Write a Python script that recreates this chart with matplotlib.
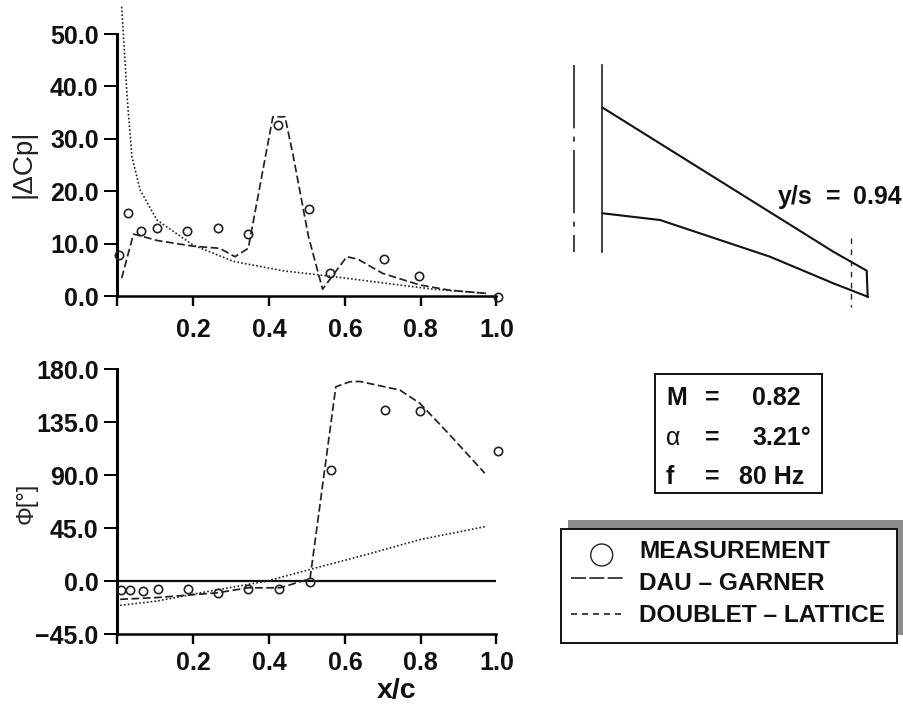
import matplotlib
matplotlib.use('Agg')
import matplotlib.pyplot as plt
from matplotlib.patches import Rectangle, Circle

plt.rcParams['font.family'] = ['Liberation Sans', 'DejaVu Sans']

W, H = 904, 704

# |dCp| plot
meas_x = [0.005, 0.029, 0.063, 0.105, 0.184, 0.265, 0.344, 0.424, 0.505, 0.560, 0.704, 0.796, 1.003]
meas_cp = [7.8, 15.8, 12.5, 12.9, 12.5, 12.9, 11.8, 32.6, 16.6, 4.3, 7.1, 3.8, -0.1]
dau_x = [0.011, 0.042, 0.055, 0.104, 0.200, 0.270, 0.310, 0.345, 0.410, 0.442, 0.464, 0.504, 0.541,
         0.605, 0.635, 0.700, 0.798, 0.877, 0.974]
dau_cp = [3.4, 11.8, 11.6, 10.6, 9.5, 9.1, 7.5, 9.1, 34.2, 34.2, 26.6, 11.3, 1.3,
          7.5, 7.0, 4.3, 2.1, 1.1, 0.5]
dlm_x = [0.011, 0.018, 0.026, 0.038, 0.060, 0.104, 0.200, 0.306, 0.438, 0.570, 0.700, 0.833, 0.974]
dlm_cp = [55.2, 46.9, 37.4, 26.6, 20.2, 14.5, 9.7, 6.6, 4.8, 3.7, 2.5, 1.3, 0.5]

# phase plot
meas_x2 = [0.009, 0.032, 0.067, 0.107, 0.186, 0.266, 0.345, 0.426, 0.508, 0.563, 0.706, 0.798, 1.004]
meas_phi = [-7.9, -7.9, -8.5, -6.5, -6.5, -10.5, -7.0, -7.0, -0.8, 94.7, 145.5, 144.7, 111.0]
dau_x2 = [0.007, 0.104, 0.183, 0.262, 0.345, 0.429, 0.508, 0.576, 0.613, 0.640, 0.745, 0.798, 0.877, 0.969]
dau_phi = [-15.5, -14.0, -12.0, -10.0, -5.7, -5.7, 2.0, 165.3, 169.6, 169.8, 162.5, 151.2, 124.3, 91.8]
dlm_x2 = [0.007, 0.104, 0.218, 0.394, 0.508, 0.657, 0.798, 0.974]
dlm_phi = [-20.6, -17.0, -10.0, 0.0, 9.9, 22.6, 35.3, 46.6]

x_ticks = [0.2, 0.4, 0.6, 0.8, 1.0]
cp_ticks = [0.0, 10.0, 20.0, 30.0, 40.0, 50.0]
phi_ticks = [-45.0, 0.0, 45.0, 90.0, 135.0, 180.0]

# wing planform sketch, in figure pixels
le_x = [602.7, 833.3, 866.7, 867.7]
le_y = [107.7, 251.7, 270.7, 296.7]
te_x = [602.7, 660.0, 770.0, 833.3, 867.7]
te_y = [213.3, 220.0, 256.7, 283.3, 296.7]


def pixel_axes(left, right, top, bottom):
    return plt.gcf().add_axes([left / W, 1 - bottom / H, (right - left) / W, (bottom - top) / H])


def style(ax, ylim, yticks, xpad):
    ax.set_xlim(0, 1)
    ax.set_ylim(*ylim)
    ax.patch.set_alpha(0)
    for s in ['top', 'right']:
        ax.spines[s].set_visible(False)
    ax.spines['left'].set_linewidth(2.2)
    ax.spines['bottom'].set_linewidth(1.8)
    ax.set_xticks(x_ticks)
    ax.set_xticks([0], minor=True)
    ax.set_xticklabels(['%.1f' % t for t in x_ticks], fontsize=18, fontweight='bold', color='#111111')
    ax.set_yticks(yticks)
    ax.set_yticklabels([('%.1f' % t).replace('-', '\u2212') for t in yticks], fontsize=18,
                       fontweight='bold', color='#111111')
    ax.tick_params(axis='x', which='both', length=7.5, width=1.7, pad=xpad)
    ax.tick_params(axis='y', length=9.5, width=1.4, pad=4)


def curves(ax, x1, y1, x2, y2, x3, y3):
    ax.plot(x1, y1, ls='none', marker='o', ms=6, mfc='none', mec='#222222', mew=1.2, clip_on=False, zorder=5)
    ax.plot(x2, y2, color='#222222', lw=1.25, dashes=(4.5, 2), clip_on=False)
    ax.plot(x3, y3, color='#222222', lw=1.2, dashes=(1, 1.3), clip_on=False)


fig = plt.figure(figsize=(W / 100, H / 100), dpi=100)

ax1 = pixel_axes(117.5, 496.5, 34, 296)
style(ax1, (0, 50), cp_ticks, 8)
curves(ax1, meas_x, meas_cp, dau_x, dau_cp, dlm_x, dlm_cp)

ax2 = pixel_axes(117.5, 496.5, 369.5, 634)
style(ax2, (-45, 180), phi_ticks, 5)
ax2.axhline(0, color='#111111', lw=1.6)
curves(ax2, meas_x2, meas_phi, dau_x2, dau_phi, dlm_x2, dlm_phi)

# everything outside the two plots is placed in figure pixels
ov = fig.add_axes([0, 0, 1, 1], zorder=-1)
ov.set_xlim(0, W)
ov.set_ylim(H, 0)
ov.axis('off')

ov.text(24, 164, '|\u0394Cp|', rotation=90, ha='center', va='center', fontsize=20, color='#222222')
ov.text(27, 503, '\u03a6[\u00b0]', rotation=90, ha='center', va='center', fontsize=17, color='#222222')
ov.text(397, 691, 'x/c', ha='center', va='center', fontsize=20.5, fontweight='bold', color='#111111')

ov.plot(le_x, le_y, color='#111111', lw=1.5)
ov.plot(te_x, te_y, color='#111111', lw=1.5)
ov.plot([602.3, 602.3], [65, 252], color='#222222', lw=1.2)
ov.plot([574.3, 574.3], [65, 252], color='#222222', lw=1.2, dashes=(38, 5, 3, 5))
ov.plot([851, 851], [238, 307], color='#222222', lw=1.0, dashes=(4, 4))
ov.text(778, 197, 'y/s', ha='left', va='center', fontsize=18, fontweight='bold', color='#111111')
ov.text(833, 197, '=', ha='center', va='center', fontsize=18, fontweight='bold', color='#111111')
ov.text(853, 197, '0.94', ha='left', va='center', fontsize=18, fontweight='bold', color='#111111')

# parameter box
ov.add_patch(Rectangle((655, 374), 167, 119, fc='white', ec='#111111', lw=1.4))
for y, a, b, xb in [(398, 'M', '0.82', 752), (438, '\u03b1', '3.21\u00b0', 752), (477, 'f', '80 Hz', 739)]:
    ov.text(666, y, a, ha='left', va='center', fontsize=18,
            fontweight='normal' if a == '\u03b1' else 'bold', color='#111111')
    ov.text(712, y, '=', ha='center', va='center', fontsize=18, fontweight='bold', color='#111111')
    ov.text(xb, y, b, ha='left', va='center', fontsize=18, fontweight='bold', color='#111111')

# legend box with shadow
ov.add_patch(Rectangle((568, 520), 336, 115, fc='#8c8c8c', ec='none'))
ov.add_patch(Rectangle((560.7, 529), 336.6, 114, fc='white', ec='#111111', lw=1.4))
ov.add_patch(Circle((601.7, 555), 11, fc='none', ec='#222222', lw=1.0))
ov.plot([570.7, 623], [578, 578], color='#222222', lw=1.2, dashes=(9, 2))
ov.plot([570.7, 623], [614, 614], color='#222222', lw=1.2, dashes=(3.6, 3))
for y, s in [(551, 'MEASUREMENT'), (583, 'DAU \u2013 GARNER'), (616, 'DOUBLET \u2013 LATTICE')]:
    ov.text(639, y, s, ha='left', va='center', fontsize=17.6, fontweight='bold', color='#111111')

fig.savefig('out.png', dpi=100)
